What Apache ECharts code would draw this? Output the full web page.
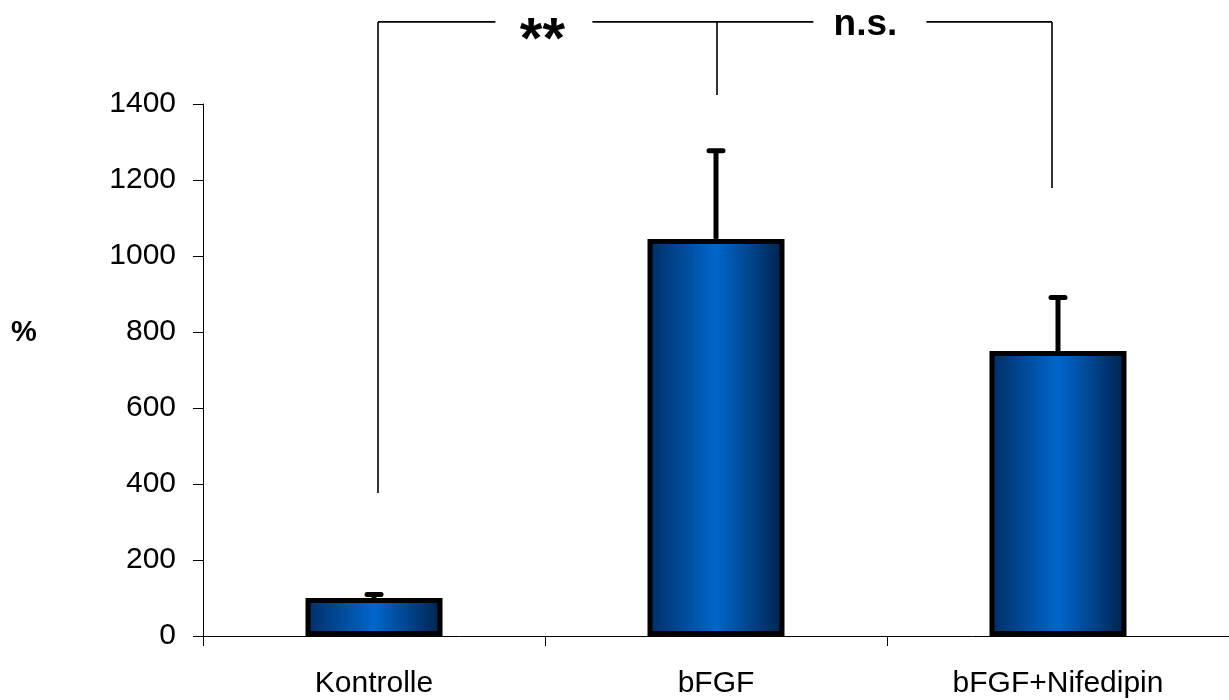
<!DOCTYPE html>
<html>
<head>
<meta charset="utf-8">
<script src="https://cdn.jsdelivr.net/npm/echarts@6/dist/echarts.min.js"></script>
<style>
  html, body { margin: 0; padding: 0; background: #fff; }
  #chart { width: 1229px; height: 700px; }
</style>
</head>
<body>
<div id="chart"></div>
<script>
// Groups and measured values (mean ± SE, in %)
const categories = ['Kontrolle', 'bFGF', 'bFGF+Nifedipin'];
const means = [100, 1045, 750];
const errors = [9, 232, 141];

// Significance brackets: each leg drops from the top line to a value
const bracketTop = 1616;
const bracketLegs = [[0, 376], [1, 1424], [2, 1179]];
const bracketTexts = ['**', 'n.s.'];

const FONT = '"Liberation Sans", Arial, sans-serif';

// label placement between two legs: fraction along the span, font size,
// vertical offset and the white gap cut into the top line
const labelLayout = [
  { from: 0, to: 1, at: 0.485, size: 58, dy: 20, gapL: 47, gapR: 50 },
  { from: 1, to: 2, at: 0.443, size: 37, dy: 3, gapL: 52, gapR: 61 }
];

const chart = echarts.init(document.getElementById('chart'), null, { renderer: 'canvas' });

const barGradient = new echarts.graphic.LinearGradient(0, 0, 1, 0, [
  { offset: 0, color: '#002d63' },
  { offset: 0.5, color: '#0066cc' },
  { offset: 1, color: '#00224c' }
]);

chart.setOption({
  animation: false,
  backgroundColor: '#ffffff',
  grid: { left: 203, right: -3, top: 104, bottom: 64, containLabel: false },
  xAxis: {
    type: 'category',
    data: categories,
    axisLine: { lineStyle: { color: '#000', width: 1 } },
    axisTick: { show: true, alignWithLabel: false, length: 10, lineStyle: { color: '#000' } },
    axisLabel: { color: '#000', fontFamily: FONT, fontSize: 30, margin: 33 }
  },
  yAxis: {
    type: 'value',
    min: 0,
    max: 1400,
    interval: 200,
    splitLine: { show: false },
    axisLine: { show: true, lineStyle: { color: '#000', width: 1 } },
    axisTick: { show: true, length: 10, lineStyle: { color: '#000' } },
    axisLabel: { color: '#000', fontFamily: FONT, fontSize: 30, margin: 27,
      formatter: v => String(v) }
  },
  graphic: [{
    type: 'text',
    left: 11,
    top: 318,
    style: { text: '%', fill: '#000', font: 'bold 29px ' + FONT }
  }],
  series: [
    {
      type: 'bar',
      data: means,
      barWidth: 137,
      itemStyle: { color: barGradient, borderColor: '#000', borderWidth: 5 },
      z: 2
    },
    {
      // error bars (upper whisker only)
      type: 'custom',
      data: means.map((m, i) => [i, m, errors[i]]),
      z: 3,
      renderItem: function (params, api) {
        const i = api.value(0);
        const m = api.value(1);
        const e = api.value(2);
        const base = api.coord([i, m]);
        const top = api.coord([i, m + e]);
        const half = 7;
        return {
          type: 'group',
          children: [
            { type: 'line', shape: { x1: base[0], y1: base[1], x2: top[0], y2: top[1] },
              style: { stroke: '#000', lineWidth: 5 } },
            { type: 'line', shape: { x1: top[0] - half, y1: top[1], x2: top[0] + half, y2: top[1] },
              style: { stroke: '#000', lineWidth: 5, lineCap: 'round' } }
          ]
        };
      }
    },
    {
      // significance brackets above the bars
      type: 'custom',
      data: [0],
      clip: false,
      z: 4,
      renderItem: function (params, api) {
        const legShift = [4, 1, -6];
        const legPts = bracketLegs.map((l, k) => {
          const t = api.coord([l[0], bracketTop]);
          const b = api.coord([l[0], l[1]]);
          return { top: [t[0] + legShift[k], t[1]], bottom: [b[0] + legShift[k], b[1]] };
        });
        const children = [];
        const first = legPts[0].top, last = legPts[legPts.length - 1].top;
        children.push({ type: 'line', shape: { x1: first[0], y1: first[1], x2: last[0], y2: last[1] },
          style: { stroke: '#000', lineWidth: 1.6 } });
        legPts.forEach(p => {
          children.push({ type: 'line', shape: { x1: p.top[0], y1: p.top[1], x2: p.bottom[0], y2: p.bottom[1] },
            style: { stroke: '#000', lineWidth: 1.6 } });
        });
        labelLayout.forEach((b, k) => {
          const a = legPts[b.from].top, c = legPts[b.to].top;
          const x = a[0] + (c[0] - a[0]) * b.at;
          // white box hides the top line behind the label
          children.push({
            type: 'rect',
            shape: { x: x - b.gapL, y: a[1] - 4, width: b.gapL + b.gapR, height: 8 },
            style: { fill: '#fff' }
          });
          children.push({
            type: 'text',
            x: x, y: a[1] + b.dy,
            style: {
              text: bracketTexts[k], fill: '#000', font: 'bold ' + b.size + 'px ' + FONT,
              align: 'center', verticalAlign: 'middle'
            }
          });
        });
        return { type: 'group', children: children };
      }
    }
  ]
});
</script>
</body>
</html>
